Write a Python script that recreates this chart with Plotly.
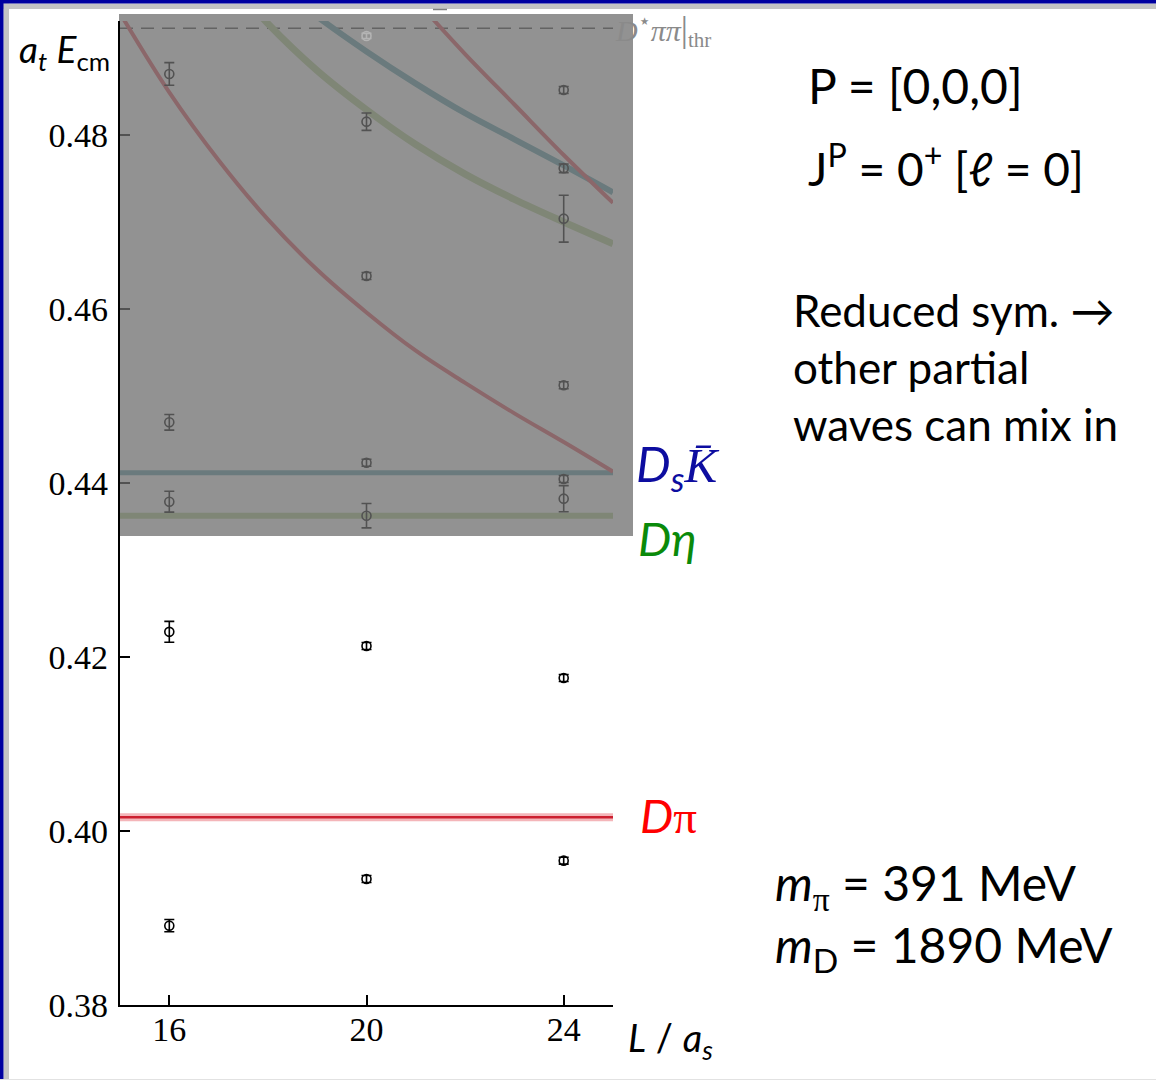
import plotly.graph_objects as go

# ---- finite-volume spectrum (a_t E_cm) on three lattice volumes ----
L16_E = [0.48701, 0.44698, 0.43785, 0.42289, 0.38912]
L16_ERR = [0.0013, 0.0009, 0.0012, 0.0012, 0.0007]

L20_E = [0.48153, 0.46379, 0.44233, 0.43624, 0.42126, 0.39448]
L20_ERR = [0.0010, 0.0004, 0.0004, 0.0014, 0.0004, 0.0004]

L24_E = [0.48517, 0.47617, 0.47038, 0.45123, 0.44046, 0.43820, 0.41759, 0.39659]
L24_ERR = [0.0004, 0.0005, 0.0027, 0.0004, 0.0004, 0.0015, 0.0004, 0.0004]

# level sitting at the D*pipi threshold, drawn faint
L20_TOP_E = [0.49138]
L20_TOP_ERR = [0.0003]

# thresholds
E_DPI = 0.40157
E_DETA = 0.43624
E_DSK = 0.44118
E_DSTARPIPI = 0.49227

# non-interacting curves
DPI_1_L = [15, 16, 17, 18, 19, 20, 21, 22, 23, 24, 25]
DPI_1_E = [0.4940, 0.4849, 0.4771, 0.4703, 0.4645, 0.4596, 0.4552, 0.4515, 0.4480, 0.4447, 0.4413]

DETA_1_L = [17.5, 18, 19, 20, 21, 22, 23, 24, 25]
DETA_1_E = [0.4960, 0.4928, 0.4874, 0.4829, 0.4789, 0.4755, 0.4726, 0.4700, 0.4675]

DSK_1_L = [18.5, 19, 20, 21, 22, 23, 24, 25]
DSK_1_E = [0.4958, 0.4936, 0.4896, 0.4859, 0.4825, 0.4795, 0.4765, 0.4734]

DPI_2_L = [21, 22, 23, 24, 25]
DPI_2_E = [0.4955, 0.4893, 0.4835, 0.4777, 0.4722]

X_TICKS = [16, 20, 24]
Y_TICKS = [0.38, 0.40, 0.42, 0.44, 0.46, 0.48]
X_RANGE = [15, 25]
Y_RANGE = [0.38, 0.4931]
SHADE_BOTTOM = 0.43391

# ---- page geometry ----
W, H = 1156, 1080
P_LEFT, P_RIGHT, P_TOP, P_BOTTOM = 120, 613, 21, 1005


def px_x(px):
    return (px - P_LEFT) / (P_RIGHT - P_LEFT)


def px_y(py):
    return (P_BOTTOM - py) / (P_BOTTOM - P_TOP)


RED = "rgb(225,85,95)"
GREEN = "rgb(180,205,145)"
TEAL = "rgb(95,160,170)"

fig = go.Figure()

# threshold lines
fig.add_trace(go.Scatter(x=X_RANGE, y=[E_DPI, E_DPI], mode="lines",
                         line=dict(color="rgba(230,90,100,0.45)", width=8), hoverinfo="skip"))
fig.add_trace(go.Scatter(x=X_RANGE, y=[E_DPI, E_DPI], mode="lines",
                         line=dict(color="#cc1f2f", width=2.5), hoverinfo="skip"))
fig.add_trace(go.Scatter(x=X_RANGE, y=[E_DETA, E_DETA], mode="lines",
                         line=dict(color=GREEN, width=6), hoverinfo="skip"))
fig.add_trace(go.Scatter(x=X_RANGE, y=[E_DSK, E_DSK], mode="lines",
                         line=dict(color=TEAL, width=5), hoverinfo="skip"))
fig.add_trace(go.Scatter(x=X_RANGE, y=[E_DSTARPIPI, E_DSTARPIPI], mode="lines",
                         line=dict(color="#444444", width=1.5, dash="13px,8px"), hoverinfo="skip"))

# non-interacting curves
for xs, ys, col, wd in [(DPI_1_L, DPI_1_E, RED, 4),
                        (DETA_1_L, DETA_1_E, GREEN, 7),
                        (DSK_1_L, DSK_1_E, TEAL, 6),
                        (DPI_2_L, DPI_2_E, RED, 4)]:
    fig.add_trace(go.Scatter(x=xs, y=ys, mode="lines", line=dict(color=col, width=wd, shape="spline"),
                             hoverinfo="skip"))


def add_levels(L, energies, errors, color):
    fig.add_trace(go.Scatter(
        x=[L] * len(energies), y=energies, mode="markers",
        marker=dict(symbol="circle-open", size=9, color=color, line=dict(width=1.6, color=color)),
        error_y=dict(type="data", array=errors, visible=True, color=color, thickness=1.6, width=5),
        hoverinfo="skip"))


add_levels(16, L16_E, L16_ERR, "black")
add_levels(20, L20_E, L20_ERR, "black")
add_levels(24, L24_E, L24_ERR, "black")

# grey veil over the upper part of the spectrum
fig.add_trace(go.Scatter(
    x=[X_RANGE[0], X_RANGE[1], X_RANGE[1], X_RANGE[0], X_RANGE[0]],
    y=[SHADE_BOTTOM, SHADE_BOTTOM, 0.50, 0.50, SHADE_BOTTOM],
    mode="lines", fill="toself", fillcolor="rgba(110,110,110,0.75)",
    line=dict(width=0), hoverinfo="skip"))

add_levels(20, L20_TOP_E, L20_TOP_ERR, "#b4b4b4")

shapes = [
    # veil continuing past the axes
    dict(type="rect", xref="paper", yref="paper", x0=1.0, x1=px_x(633), y0=px_y(536), y1=px_y(14),
         fillcolor="#929292", line=dict(width=0), layer="below"),
    dict(type="rect", xref="paper", yref="paper", x0=px_x(119), x1=1.0, y0=1.0, y1=px_y(14),
         fillcolor="#929292", line=dict(width=0), layer="below"),
    # slide frame
    dict(type="rect", xref="paper", yref="paper", x0=px_x(0), x1=px_x(W), y0=px_y(3.5), y1=px_y(9),
         fillcolor="#c4c4c4", line=dict(width=0), layer="above"),
    dict(type="rect", xref="paper", yref="paper", x0=px_x(3.5), x1=px_x(9), y0=px_y(H), y1=px_y(3.5),
         fillcolor="#c4c4c4", line=dict(width=0), layer="above"),
    dict(type="rect", xref="paper", yref="paper", x0=px_x(0), x1=px_x(W), y0=px_y(3.5), y1=px_y(0),
         fillcolor="#0000a0", line=dict(width=0), layer="above"),
    dict(type="rect", xref="paper", yref="paper", x0=px_x(0), x1=px_x(3.5), y0=px_y(H), y1=px_y(0),
         fillcolor="#0000a0", line=dict(width=0), layer="above"),
    dict(type="line", xref="paper", yref="paper", x0=px_x(0), x1=px_x(W), y0=px_y(1079.5), y1=px_y(1079.5),
         line=dict(color="#e2e2e2", width=1), layer="above"),
    dict(type="line", xref="paper", yref="paper", x0=px_x(433), x1=px_x(447), y0=px_y(9.5), y1=px_y(9.5),
         line=dict(color="#808080", width=1.5), layer="above"),
]

SANS = "Lato"
SERIF = "Liberation Serif"


def note(text, px, py, size, color="black", family=SANS, xanchor="left", yanchor="middle", align="left"):
    return dict(text=text, xref="paper", yref="paper", x=px_x(px), y=px_y(py), xanchor=xanchor,
                yanchor=yanchor, showarrow=False, align=align,
                font=dict(family=family, size=size, color=color))


annotations = [
    note("<i>a</i><sub><i>t</i></sub> <i>E</i><sub>cm</sub>", 17, 52, 37),
    note("<i>L</i> / <i>a</i><sub><i>s</i></sub>", 626, 1040, 38),
    note("<i>D</i><sup>⋆</sup><i>ππ</i><span style=\"font-size:36px\">|</span><sub>thr</sub>",
         613, 30, 30, color="#8a8a8a", family=SERIF),
    note("<i>D<sub>s</sub></i><span style=\"font-family:'Liberation Serif'\"><i>K̄</i></span>",
         634, 466, 49, color="#0d0da0"),
    note("<i>Dη</i>", 636, 538, 47, color="#0a8a0a"),
    note("<i>D</i><span style=\"font-family:'Liberation Serif'\">π</span>", 638, 815, 47, color="#ff0000"),
    note("P = [0,0,0]", 806, 85, 48),
    note("J<sup>P</sup> = 0<sup>+</sup> [ℓ = 0]", 806, 166, 46),
    note("Reduced sym. →<br>other partial<br>waves can mix in", 791, 367, 44),
    note("<i>m</i><sub><span style=\"font-family:'Liberation Serif'\">π</span></sub> = 391 MeV",
         773, 886, 48),
    note("<i>m</i><sub>D</sub> = 1890 MeV", 773, 948, 48),
]

fig.update_layout(
    width=W, height=H, autosize=False,
    margin=dict(l=P_LEFT, r=W - P_RIGHT, t=P_TOP, b=H - P_BOTTOM, pad=0),
    paper_bgcolor="white", plot_bgcolor="white",
    showlegend=False, shapes=shapes, annotations=annotations,
    xaxis=dict(range=X_RANGE, tickvals=X_TICKS, ticks="inside", ticklen=10, tickwidth=2,
               tickcolor="black", showline=True, linecolor="black", linewidth=2.2,
               showgrid=False, zeroline=False, ticklabelstandoff=-7,
               tickfont=dict(family=SERIF, size=34, color="black")),
    yaxis=dict(range=Y_RANGE, tickvals=Y_TICKS, tickformat=".2f", ticks="inside", ticklen=10,
               tickwidth=2, tickcolor="black", showline=True, linecolor="black", linewidth=2.2,
               showgrid=False, zeroline=False, layer="below traces", ticklabelstandoff=3,
               tickfont=dict(family=SERIF, size=34, color="black")),
)

fig.write_html("out.html")
